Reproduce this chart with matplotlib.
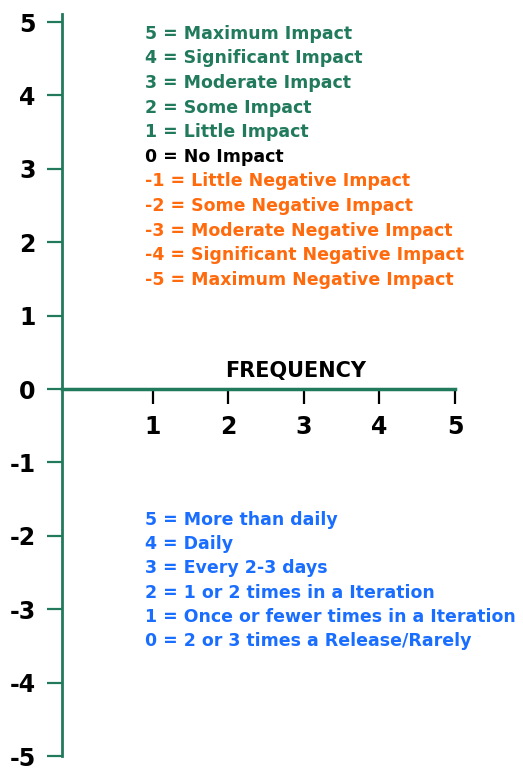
import matplotlib.pyplot as plt

plt.rcParams.update({"font.family": ["DejaVu Sans"], "font.weight": "bold"})

GREEN = "#217A5B"
ORANGE = "#FF6A0D"
BLUE = "#1A6EFF"

impact_ticks = [5, 4, 3, 2, 1, 0, -1, -2, -3, -4, -5]
frequency_ticks = [1, 2, 3, 4, 5]

impact_labels = [
    "5 = Maximum Impact",
    "4 = Significant Impact",
    "3 = Moderate Impact",
    "2 = Some Impact",
    "1 = Little Impact",
    "0 = No Impact",
    "-1 = Little Negative Impact",
    "-2 = Some Negative Impact",
    "-3 = Moderate Negative Impact",
    "-4 = Significant Negative Impact",
    "-5 = Maximum Negative Impact",
]
impact_colors = [GREEN] * 5 + ["black"] + [ORANGE] * 5

frequency_labels = [
    "5 = More than daily",
    "4 = Daily",
    "3 = Every 2-3 days",
    "2 = 1 or 2 times in a Iteration",
    "1 = Once or fewer times in a Iteration",
    "0 = 2 or 3 times a Release/Rarely",
]

W, H = 523, 772
fig = plt.figure(figsize=(W / 100, H / 100), dpi=100)
# axes box in pixels: left spine at x=62, vertical line from y=14 to y=756
ax = fig.add_axes([62 / W, 16 / H, 393 / W, 742 / H])
ax.set_xlim(-0.205, 5.0)
ax.set_ylim(-5, 5.11)

for side in ["top", "right"]:
    ax.spines[side].set_visible(False)
ax.spines["left"].set_color(GREEN)
ax.spines["left"].set_linewidth(2)
ax.spines["bottom"].set_position(("data", 0))
ax.spines["bottom"].set_color(GREEN)
ax.spines["bottom"].set_linewidth(2.5)

ax.set_yticks(impact_ticks)
ax.set_yticklabels([str(v) for v in impact_ticks])
ax.tick_params(axis="y", direction="out", length=11, width=1.6, color=GREEN,
               pad=8, labelsize=17)
ax.set_xticks(frequency_ticks)
ax.set_xticklabels([str(v) for v in frequency_ticks])
ax.tick_params(axis="x", direction="out", length=11, width=1.6, color="black",
               pad=8, labelsize=17)
for lab in ax.get_xticklabels() + ax.get_yticklabels():
    lab.set_fontweight("bold")

ax.text(2.885, 0.24, "FREQUENCY", ha="center", va="center", fontsize=15,
        fontweight="bold", color="black")

# legend blocks (data coords: x = 0.894 is the text start, 0.335 per line)
y0 = 4.84
for i, (txt, col) in enumerate(zip(impact_labels, impact_colors)):
    ax.text(0.894, y0 - i * 0.335, txt, ha="left", va="center", fontsize=12.55,
            fontweight="bold", color=col, clip_on=False)

y1 = -1.78
for i, txt in enumerate(frequency_labels):
    ax.text(0.894, y1 - i * 0.331, txt, ha="left", va="center", fontsize=12.55,
            fontweight="bold", color=BLUE, clip_on=False)

fig.savefig("out.png", dpi=100)
plt.close(fig)
